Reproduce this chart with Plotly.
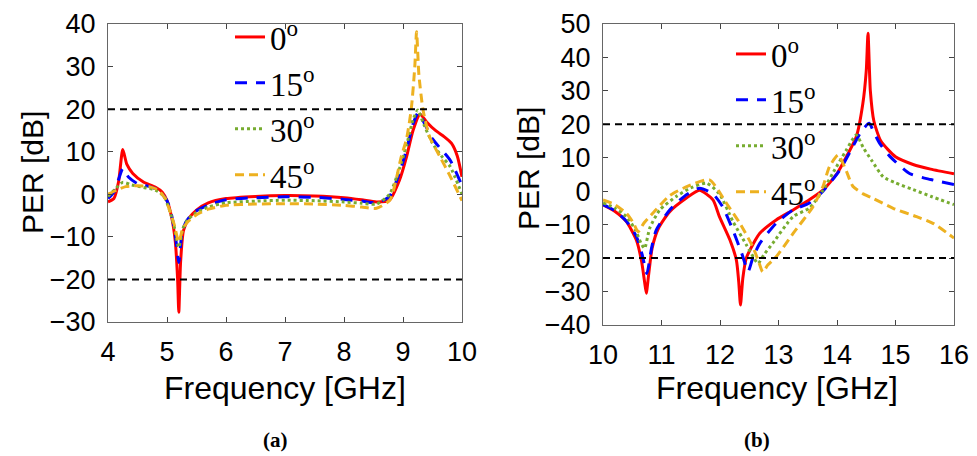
import plotly.graph_objects as go

# ---------------- data: panel (a) 4-10 GHz ----------------
a_x_0 = [4.0, 4.1, 4.18, 4.25, 4.32, 4.42, 4.6, 4.8, 4.92, 5.0, 5.08, 5.14, 5.18, 5.2, 5.23, 5.28, 5.38, 5.5, 5.7, 6.0,
         6.5, 7.0, 7.5, 8.0, 8.3, 8.55, 8.77, 8.94, 9.06, 9.17, 9.29, 9.4, 9.55, 9.7, 9.82, 9.92, 10.0]
a_y_0 = [-1.8, -1.0, 3.0, 10.5, 7.0, 4.9, 2.9, 1.7, 0.5, -1.5, -5.5, -11.0, -20.0, -27.7, -16.0, -8.5, -5.5, -3.7, -2.0, -1.0,
         -0.5, -0.3, -0.4, -0.8, -1.3, -1.8, -1.4, 3.3, 8.8, 15.0, 18.8, 17.0, 15.0, 13.5, 12.0, 9.0, 4.1]

a_x_15 = [4.0, 4.1, 4.18, 4.25, 4.35, 4.5, 4.7, 4.85, 5.0, 5.08, 5.14, 5.2, 5.25, 5.32, 5.45, 5.7, 6.0, 6.5, 7.0, 7.5,
          8.0, 8.3, 8.55, 8.77, 8.94, 9.06, 9.17, 9.26, 9.35, 9.5, 9.65, 9.8, 10.0]
a_y_15 = [-1.0, 0.5, 3.5, 6.0, 4.0, 2.5, 1.8, 1.0, -1.5, -5.0, -9.5, -16.0, -9.5, -6.5, -4.3, -2.5, -1.3, -0.8, -0.6, -0.7,
          -1.2, -1.6, -2.0, -0.5, 5.0, 10.5, 16.5, 19.2, 17.0, 13.0, 10.5, 8.0, 2.0]

a_x_30 = [4.0, 4.12, 4.25, 4.4, 4.6, 4.8, 4.95, 5.05, 5.12, 5.2, 5.27, 5.35, 5.5, 5.7, 6.0, 6.5, 7.0, 7.5, 8.0, 8.3,
          8.55, 8.77, 8.94, 9.06, 9.17, 9.25, 9.35, 9.5, 9.65, 9.8, 10.0]
a_y_30 = [-0.5, 1.2, 2.8, 2.2, 1.6, 1.0, -0.5, -4.0, -7.5, -12.5, -8.0, -6.0, -4.3, -3.0, -2.0, -1.6, -1.4, -1.5, -1.8, -2.1,
          -2.3, 0.0, 6.0, 11.5, 17.5, 19.8, 16.5, 12.0, 9.0, 6.5, 0.0]

a_x_45 = [4.0, 4.15, 4.3, 4.5, 4.7, 4.85, 4.97, 5.05, 5.12, 5.2, 5.27, 5.35, 5.5, 5.7, 6.0, 6.5, 7.0, 7.5, 8.0, 8.3,
          8.55, 8.78, 8.97, 9.06, 9.14, 9.2, 9.23, 9.27, 9.34, 9.45, 9.62, 9.79, 10.0]
a_y_45 = [0.0, 1.0, 1.8, 2.0, 1.8, 1.0, -1.0, -4.0, -7.0, -11.2, -8.0, -6.5, -4.8, -3.5, -2.6, -2.3, -2.2, -2.3, -2.6, -3.0,
          -3.3, -1.3, 8.8, 13.0, 20.0, 30.0, 38.2, 28.0, 19.8, 13.5, 9.0, 4.5, -1.5]

# ---------------- data: panel (b) 10-16 GHz ----------------
b_x_0 = [10.0, 10.2, 10.4, 10.57, 10.66, 10.71, 10.74, 10.78, 10.84, 10.95, 11.14, 11.42, 11.65, 11.88, 11.99, 12.17,
         12.28, 12.32, 12.35, 12.39, 12.45, 12.56, 12.68, 12.96, 13.25, 13.48, 13.76, 14.0, 14.16, 14.33, 14.44, 14.5,
         14.53, 14.57, 14.63, 14.75, 15.0, 15.3, 15.6, 16.0]
b_y_0 = [-4.1, -6.0, -9.1, -14.6, -21.0, -27.0, -30.5, -25.0, -17.0, -11.0, -6.1, -2.1, 0.3, -2.6, -7.6, -14.6,
         -20.6, -27.0, -34.0, -26.0, -20.0, -16.0, -12.6, -8.6, -5.6, -3.1, 0.3, 5.3, 10.3, 16.3, 26.0, 36.0,
         47.2, 30.0, 21.0, 15.0, 10.3, 8.0, 6.6, 5.2]

b_x_15 = [10.0, 10.2, 10.4, 10.57, 10.67, 10.75, 10.83, 10.91, 11.14, 11.42, 11.65, 11.88, 12.05, 12.22, 12.38, 12.48,
          12.56, 12.68, 12.96, 13.25, 13.53, 13.76, 14.05, 14.27, 14.42, 14.55, 14.62, 14.73, 14.9, 15.24, 15.6, 16.0]
b_y_15 = [-4.0, -5.8, -9.0, -13.5, -19.0, -24.6, -17.0, -11.6, -5.6, -1.1, 0.9, -0.8, -4.8, -11.6, -19.0, -24.0,
          -20.0, -15.6, -9.6, -5.6, -3.5, 0.0, 6.4, 13.3, 18.0, 20.3, 18.0, 14.3, 10.5, 5.3, 3.5, 2.0]

b_x_30 = [10.0, 10.2, 10.4, 10.55, 10.65, 10.71, 10.8, 10.97, 11.25, 11.5, 11.77, 11.99, 12.22, 12.45, 12.58, 12.65,
          12.75, 12.9, 13.25, 13.53, 13.76, 13.99, 14.15, 14.33, 14.45, 14.6, 14.79, 15.0, 15.3, 15.6, 16.0]
b_y_30 = [-3.5, -5.0, -7.6, -11.5, -15.5, -17.1, -11.0, -5.6, -1.6, 1.0, 2.4, -0.8, -9.0, -16.0, -20.0, -21.6,
          -19.0, -15.6, -7.6, -5.0, 0.3, 7.3, 12.0, 16.8, 13.0, 9.0, 4.3, 2.5, 0.5, -1.5, -4.0]

b_x_45 = [10.0, 10.2, 10.4, 10.52, 10.6, 10.7, 10.85, 11.14, 11.45, 11.82, 12.11, 12.34, 12.56, 12.66, 12.73, 12.82,
          12.96, 13.25, 13.59, 13.76, 13.87, 14.02, 14.16, 14.27, 14.45, 14.6, 14.96, 15.36, 15.64, 16.0]
b_y_45 = [-2.6, -4.0, -6.6, -9.5, -12.1, -9.5, -6.6, -1.3, 1.5, 3.4, -3.6, -9.6, -16.6, -21.0, -24.1, -22.0,
          -19.6, -12.6, -4.6, 1.4, 7.3, 10.8, 6.0, 1.5, -0.8, -2.0, -5.1, -7.6, -9.6, -14.0]

labels = ["0<sup>o</sup>", "15<sup>o</sup>", "30<sup>o</sup>", "45<sup>o</sup>"]
thresholds = [20, -20]
a_xticks = [4, 5, 6, 7, 8, 9, 10]
a_yticks = [-30, -20, -10, 0, 10, 20, 30, 40]
b_xticks = [10, 11, 12, 13, 14, 15, 16]
b_yticks = [-40, -30, -20, -10, 0, 10, 20, 30, 40, 50]

colors = ["#FF0000", "#0000FF", "#77AC30", "#EDB120"]
dashes = ["solid", "12px,9px", "3px,3px", "9px,5px"]
SERIF = "Liberation Serif, Times New Roman, serif"
SANS = "Liberation Sans, Arial, sans-serif"

fig = go.Figure()

panel_a = [(a_x_0, a_y_0), (a_x_15, a_y_15), (a_x_30, a_y_30), (a_x_45, a_y_45)]
panel_b = [(b_x_0, b_y_0), (b_x_15, b_y_15), (b_x_30, b_y_30), (b_x_45, b_y_45)]

for i, (xs, ys) in enumerate(panel_a):
    fig.add_trace(go.Scatter(x=xs, y=ys, mode="lines", name=labels[i], xaxis="x", yaxis="y",
                             line=dict(color=colors[i], width=3, dash=dashes[i], shape="spline", smoothing=0.6),
                             legend="legend"))
for i, (xs, ys) in enumerate(panel_b):
    fig.add_trace(go.Scatter(x=xs, y=ys, mode="lines", name=labels[i], xaxis="x2", yaxis="y2",
                             line=dict(color=colors[i], width=3, dash=dashes[i], shape="spline", smoothing=0.6),
                             legend="legend2"))

for t in thresholds:
    for xr, yr in (("x", "y"), ("x2", "y2")):
        fig.add_shape(type="line", xref=xr + " domain", yref=yr, x0=0, x1=1, y0=t, y1=t,
                      line=dict(color="black", width=2, dash="7px,5px"), layer="above")

W, H = 977, 456
def px(v): return v / W
def py(v): return 1 - v / H

axis_common = dict(showline=True, linecolor="#666666", linewidth=1, mirror="allticks",
                   ticks="inside", ticklen=5, tickcolor="#444444", showgrid=False, zeroline=False,
                   automargin=False,
                   tickfont=dict(family=SANS, size=27, color="black"))

fig.update_layout(
    width=W, height=H, margin=dict(l=0, r=0, t=0, b=0, autoexpand=False),
    paper_bgcolor="white", plot_bgcolor="white",
    xaxis=dict(domain=[px(108), px(462)], range=[4, 10], tickvals=a_xticks, anchor="y",
               ticklabelstandoff=6, **axis_common),
    yaxis=dict(domain=[py(322), py(24)], range=[-30, 40], tickvals=a_yticks, anchor="x",
               ticklabelstandoff=6, **axis_common),
    xaxis2=dict(domain=[px(603), px(954)], range=[10, 16], tickvals=b_xticks, anchor="y2",
                ticklabelstandoff=6, **axis_common),
    yaxis2=dict(domain=[py(325), py(24)], range=[-40, 50], tickvals=b_yticks, anchor="x2",
                ticklabelstandoff=6, **axis_common),
    legend=dict(x=px(230), y=py(9), xanchor="left", yanchor="top", bgcolor="rgba(0,0,0,0)",
                font=dict(family=SERIF, size=33, color="black"), tracegroupgap=0),
    legend2=dict(x=px(731), y=py(26), xanchor="left", yanchor="top", bgcolor="rgba(0,0,0,0)",
                 font=dict(family=SERIF, size=33, color="black"), tracegroupgap=0),
    showlegend=True,
)

ann_font = dict(family=SANS, size=32, color="black")
fig.add_annotation(text="Frequency [GHz]", x=px(285), y=py(388), xref="paper", yref="paper",
                   showarrow=False, font=ann_font, xanchor="center", yanchor="middle")
fig.add_annotation(text="Frequency [GHz]", x=px(777), y=py(388), xref="paper", yref="paper",
                   showarrow=False, font=ann_font, xanchor="center", yanchor="middle")
fig.add_annotation(text="PER [dB]", x=px(32), y=py(173), xref="paper", yref="paper", textangle=-90,
                   showarrow=False, font=dict(family=SANS, size=30, color="black"),
                   xanchor="center", yanchor="middle")
fig.add_annotation(text="PER [dB]", x=px(528), y=py(169), xref="paper", yref="paper", textangle=-90,
                   showarrow=False, font=dict(family=SANS, size=30, color="black"),
                   xanchor="center", yanchor="middle")
fig.add_annotation(text="<b>(a)</b>", x=px(275), y=py(440), xref="paper", yref="paper",
                   showarrow=False, font=dict(family=SERIF, size=21, color="black"),
                   xanchor="center", yanchor="middle")
fig.add_annotation(text="<b>(b)</b>", x=px(757), y=py(440), xref="paper", yref="paper",
                   showarrow=False, font=dict(family=SERIF, size=21, color="black"),
                   xanchor="center", yanchor="middle")

fig.write_html("out.html")
